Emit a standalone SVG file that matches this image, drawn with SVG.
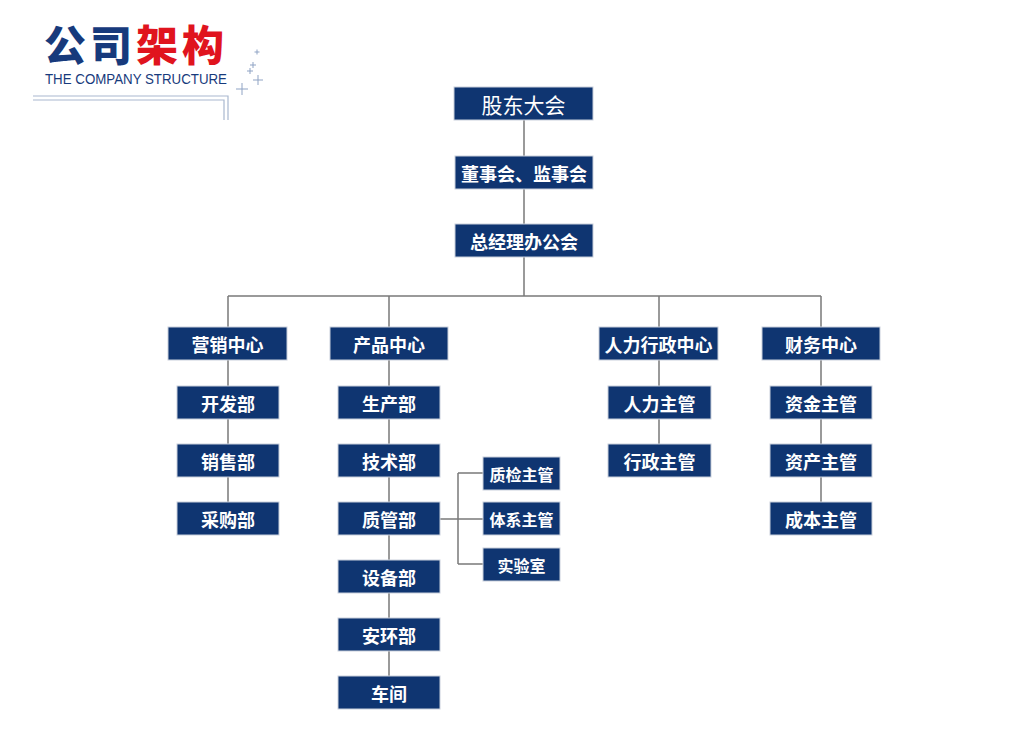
<svg xmlns="http://www.w3.org/2000/svg" width="1036" height="735" viewBox="0 0 1036 735">
<style>
.b{fill:#0f3571;stroke:#c9d0dc;stroke-width:1}
.t{fill:#fff;font-family:"Noto Sans CJK SC",sans-serif;font-weight:bold;font-size:18px;text-anchor:middle;dominant-baseline:central}
.s{font-size:16px}
.c{fill:none;stroke:#7a7a7a;stroke-width:1.5}
.d{fill:none;stroke:#a9b8cf;stroke-width:1.2}
.p{stroke:#8fa3c4;stroke-width:1}
</style>
<rect width="1036" height="735" fill="#fff"/>
<g id="logo">
<text x="44" y="61" font-family="Noto Sans CJK SC,sans-serif" font-weight="900" font-size="42" letter-spacing="4" fill="#173a7c">公司<tspan fill="#e0141e">架构</tspan></text>
<text x="45" y="84" font-family="Liberation Sans,sans-serif" font-size="15" fill="#173a7c" textLength="182" lengthAdjust="spacingAndGlyphs">THE COMPANY STRUCTURE</text>
<path class="d" d="M33 96H228V120M33 100H224V120"/>
<path class="p" d="M254.5 52H259.5M257 49.5V54.5M250 65H256M253 62V68M247 71H253M250 68V74M253 80H263M258 75V85M236 89H248M242 83V95"/>
</g>
<g id="connectors">
<path class="c" d="M524 120V156M524 189V224M524 257V296M228 296H821M228 296V327M389 296V327M659 296V327M821 296V327"/>
<path class="c" d="M228 360V502M389 360V676M659 360V444M821 360V502"/>
<path class="c" d="M440 519H483M458 473V564M458 473H483M458 564H483"/>
</g>
<g id="n1"><rect class="b" x="454" y="87" width="139" height="33"/><text class="t" x="523.5" y="103.5" style="font-size:21px;font-weight:normal">股东大会</text></g>
<g id="n2"><rect class="b" x="455" y="156" width="138" height="33"/><text class="t" x="524" y="172.5">董事会、监事会</text></g>
<g id="n3"><rect class="b" x="455" y="224" width="138" height="33"/><text class="t" x="524" y="240.5">总经理办公会</text></g>
<g id="m0"><rect class="b" x="168" y="327" width="119" height="33"/><text class="t" x="227.5" y="343.5">营销中心</text></g>
<g id="m1"><rect class="b" x="177" y="386" width="102" height="33"/><text class="t" x="228" y="402.5">开发部</text></g>
<g id="m2"><rect class="b" x="177" y="444" width="102" height="33"/><text class="t" x="228" y="460.5">销售部</text></g>
<g id="m3"><rect class="b" x="177" y="502" width="102" height="33"/><text class="t" x="228" y="518.5">采购部</text></g>
<g id="p0"><rect class="b" x="330" y="327" width="118" height="33"/><text class="t" x="389" y="343.5">产品中心</text></g>
<g id="p1"><rect class="b" x="338" y="386" width="102" height="33"/><text class="t" x="389" y="402.5">生产部</text></g>
<g id="p2"><rect class="b" x="338" y="444" width="102" height="33"/><text class="t" x="389" y="460.5">技术部</text></g>
<g id="p3"><rect class="b" x="338" y="502" width="102" height="33"/><text class="t" x="389" y="518.5">质管部</text></g>
<g id="p4"><rect class="b" x="338" y="560" width="102" height="33"/><text class="t" x="389" y="576.5">设备部</text></g>
<g id="p5"><rect class="b" x="338" y="618" width="102" height="33"/><text class="t" x="389" y="634.5">安环部</text></g>
<g id="p6"><rect class="b" x="338" y="676" width="102" height="33"/><text class="t" x="389" y="692.5">车间</text></g>
<g id="q1"><rect class="b" x="483" y="457" width="77" height="33"/><text class="t s" x="521.5" y="473.5">质检主管</text></g>
<g id="q2"><rect class="b" x="483" y="502" width="77" height="33"/><text class="t s" x="521.5" y="518.5">体系主管</text></g>
<g id="q3"><rect class="b" x="483" y="548" width="77" height="33"/><text class="t s" x="521.5" y="564.5">实验室</text></g>
<g id="h0"><rect class="b" x="599" y="327" width="119" height="33"/><text class="t" x="658.5" y="343.5">人力行政中心</text></g>
<g id="h1"><rect class="b" x="608" y="386" width="103" height="33"/><text class="t" x="659.5" y="402.5">人力主管</text></g>
<g id="h2"><rect class="b" x="608" y="444" width="103" height="33"/><text class="t" x="659.5" y="460.5">行政主管</text></g>
<g id="f0"><rect class="b" x="762" y="327" width="118" height="33"/><text class="t" x="821" y="343.5">财务中心</text></g>
<g id="f1"><rect class="b" x="770" y="386" width="102" height="33"/><text class="t" x="821" y="402.5">资金主管</text></g>
<g id="f2"><rect class="b" x="770" y="444" width="102" height="33"/><text class="t" x="821" y="460.5">资产主管</text></g>
<g id="f3"><rect class="b" x="770" y="502" width="102" height="33"/><text class="t" x="821" y="518.5">成本主管</text></g>
</svg>
